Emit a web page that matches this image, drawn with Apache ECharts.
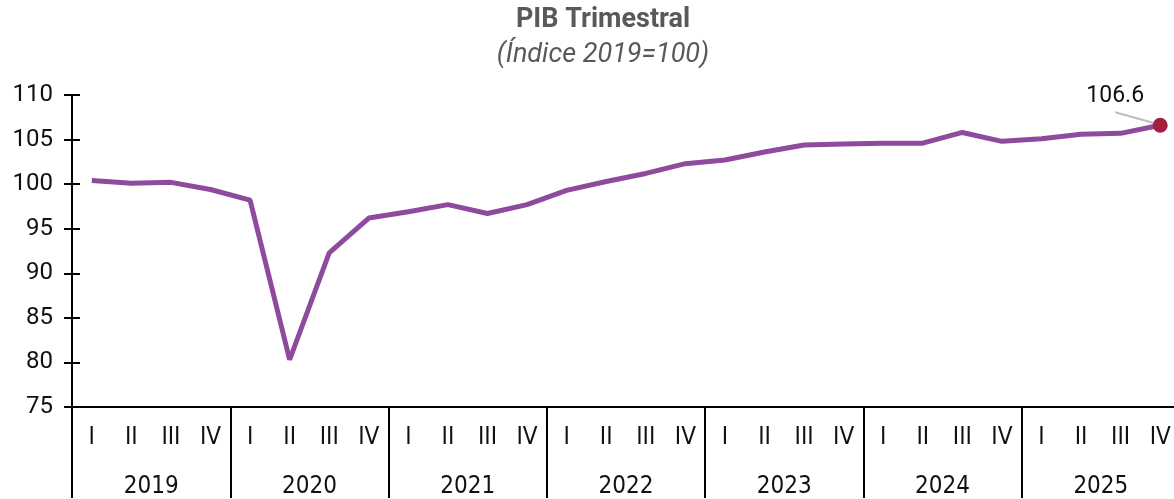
<!DOCTYPE html>
<html>
<head>
<meta charset="utf-8">
<script src="https://cdn.jsdelivr.net/npm/echarts@6/dist/echarts.min.js"></script>
<style>
  html, body { margin: 0; padding: 0; background: #fff; overflow: hidden; }
  #main { width: 1180px; height: 499px; }
</style>
</head>
<body>
<div id="main"></div>
<script>
  var years = ['2019', '2020', '2021', '2022', '2023', '2024', '2025'];
  var quarters = ['I', 'II', 'III', 'IV'];
  var pib = [
    100.4, 100.1, 100.2, 99.4,
    98.2, 80.3, 92.3, 96.2,
    96.9, 97.7, 96.7, 97.7,
    99.3, 100.3, 101.2, 102.3,
    102.7, 103.6, 104.4, 104.5,
    104.6, 104.6, 105.8, 104.8,
    105.1, 105.6, 105.7, 106.6
  ];
  var yTicks = [75, 110, 5];

  var quarterLabels = [];
  years.forEach(function () {
    quarters.forEach(function (q) { quarterLabels.push(q); });
  });
  var last = pib.length - 1;
  var narrow = '"Liberation Sans Narrow", "DejaVu Sans Condensed", Roboto';

  var chart = echarts.init(document.getElementById('main'));
  var option = {
    animation: false,
    textStyle: { fontFamily: 'Roboto' },
    title: {
      text: 'PIB Trimestral',
      subtext: '(Índice 2019=100)',
      left: 598,
      top: 2,
      textAlign: 'center',
      itemGap: 8,
      textStyle: { fontSize: 27, fontWeight: 'bold', color: '#595959' },
      subtextStyle: { fontSize: 27, fontStyle: 'italic', color: '#595959' }
    },
    grid: { left: 72, right: 0, top: 95, bottom: 91, containLabel: false },
    xAxis: [
      {
        type: 'category',
        data: quarterLabels,
        boundaryGap: true,
        axisLine: { show: true, lineStyle: { color: '#000', width: 2 } },
        axisTick: { show: false },
        axisLabel: { interval: 0, margin: 19, fontSize: 24, color: '#111', fontFamily: narrow }
      },
      {
        type: 'category',
        data: years,
        position: 'bottom',
        boundaryGap: true,
        axisLine: { show: false },
        axisTick: { show: true, interval: 0, length: 91, lineStyle: { color: '#000', width: 2 } },
        axisLabel: { interval: 0, margin: 68, fontSize: 24, color: '#111', fontFamily: narrow }
      }
    ],
    yAxis: [
      {
        type: 'value',
        min: yTicks[0],
        max: yTicks[1],
        interval: yTicks[2],
        splitLine: { show: false },
        axisLine: { show: true, lineStyle: { color: '#000', width: 2 } },
        axisTick: { show: true, length: 8, lineStyle: { color: '#000', width: 2 } },
        axisLabel: { margin: 19, fontSize: 24, color: '#111' }
      },
      {
        type: 'value',
        position: 'left',
        min: yTicks[0],
        max: yTicks[1],
        interval: yTicks[2],
        splitLine: { show: false },
        axisLine: { show: false },
        axisTick: { show: true, inside: true, length: 8, lineStyle: { color: '#000', width: 2 } },
        axisLabel: { show: false }
      }
    ],
    series: [
      {
        type: 'line',
        data: pib,
        symbol: 'none',
        lineStyle: { color: '#8e4a9c', width: 5 },
        itemStyle: { color: '#8e4a9c' }
      },
      {
        type: 'scatter',
        data: [[last, pib[last]]],
        symbolSize: 15,
        z: 5,
        itemStyle: { color: '#a51d3f', opacity: 1 },
        label: {
          show: true,
          position: 'top',
          fontSize: 23,
          color: '#111',
          formatter: function (p) { return p.value[1].toFixed(1); }
        },
        labelLayout: { dx: -45, dy: -5 }
      }
    ]
  };
  chart.setOption(option);

  // leader line from the label to the last point, placed from the chart's own scale
  var p = chart.convertToPixel({ seriesIndex: 1 }, [last, pib[last]]);
  chart.setOption({
    graphic: [{
      type: 'line',
      z: 4,
      shape: { x1: p[0] - 45, y1: p[1] - 13, x2: p[0] - 2, y2: p[1] - 1 },
      style: { stroke: '#bdbdbd', lineWidth: 2 }
    }]
  });

  window.addEventListener('resize', function () {
    chart.resize();
  });
</script>
</body>
</html>
